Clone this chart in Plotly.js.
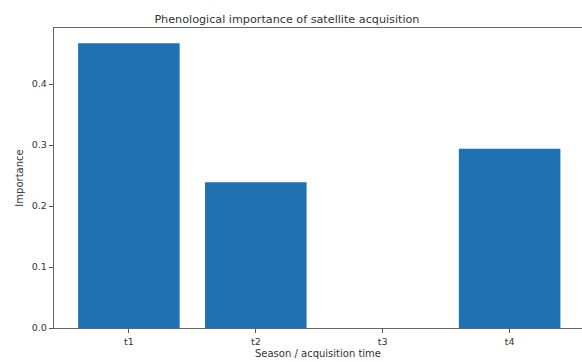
<!DOCTYPE html>
<html>
<head>
<meta charset="utf-8">
<script src="https://cdn.plot.ly/plotly-3.0.1.min.js"></script>
<style>html,body{margin:0;padding:0;background:#fff;}#chart{width:582px;height:362px;}</style>
</head>
<body>
<div id="chart"></div>
<script>
const categories = ['t1', 't2', 't3', 't4'];
const importance = [0.467, 0.239, 0.0, 0.294];
const yTicks = [0.0, 0.1, 0.2, 0.3, 0.4];

const tickFont = {family: 'DejaVu Sans, sans-serif', size: 9.5, color: '#333'};
const labelFont = {family: 'DejaVu Sans, sans-serif', size: 10, color: '#333'};
Plotly.newPlot('chart', [{
  type: 'bar',
  x: categories,
  y: importance,
  marker: {color: '#1f71b1', line: {width: 0}},
  hoverinfo: 'none'
}], {
  width: 582, height: 362,
  margin: {l: 54, r: 0, t: 28, b: 34, pad: 0},
  paper_bgcolor: '#fff', plot_bgcolor: '#fff',
  bargap: 0.2,
  font: tickFont,
  title: {text: 'Phenological importance of satellite acquisition', font: {family: 'DejaVu Sans, sans-serif', size: 11.2, color: '#333'}, x: 0.493, xanchor: 'center', y: 0.948, yref: 'container', yanchor: 'middle'},
  xaxis: {
    type: 'category', range: [-0.59, 3.57],
    showline: true, linecolor: '#666', linewidth: 1.2, mirror: true,
    ticks: 'outside', ticklen: 4, tickcolor: '#555', tickwidth: 1,
    showgrid: false, zeroline: false, tickfont: tickFont,
    title: {text: 'Season / acquisition time', font: labelFont, standoff: 4}
  },
  yaxis: {
    range: [0, 0.4918],
    tickvals: yTicks, tickformat: '.1f',
    showline: true, linecolor: '#666', linewidth: 1.2,
    ticks: 'outside', ticklen: 4, tickcolor: '#555', tickwidth: 1,
    showgrid: false, zeroline: false, tickfont: tickFont,
    title: {text: 'Importance', font: labelFont, standoff: 6}
  },
  showlegend: false
}, {staticPlot: true, displayModeBar: false});
</script>
</body>
</html>
